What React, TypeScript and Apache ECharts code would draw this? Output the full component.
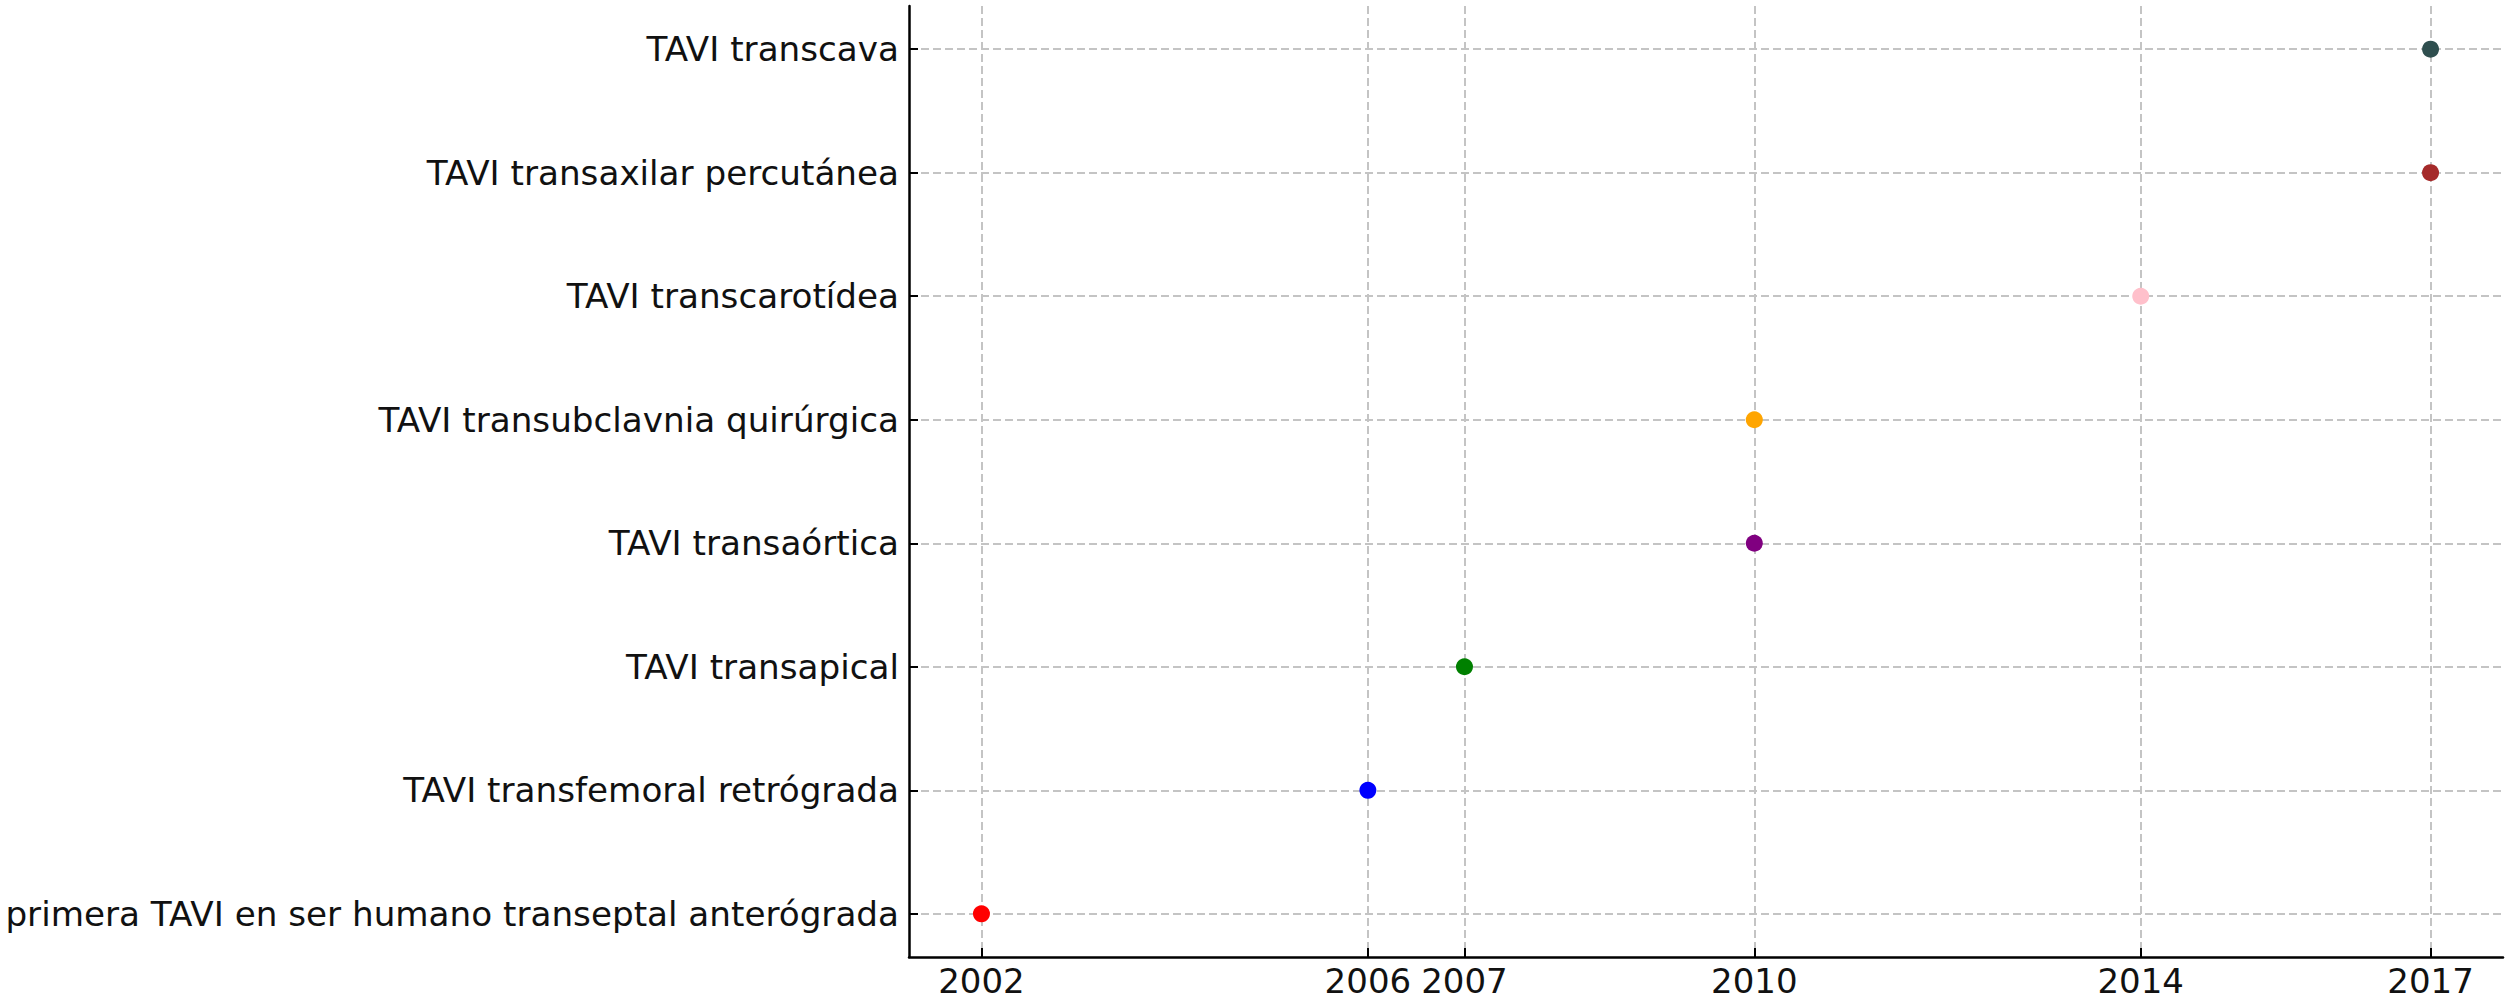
import React, { useEffect, useRef } from "react";
import * as echarts from "echarts";

const categories = [
  "primera TAVI en ser humano transeptal anterógrada",
  "TAVI transfemoral retrógrada",
  "TAVI transapical",
  "TAVI transaórtica",
  "TAVI transubclavnia quirúrgica",
  "TAVI transcarotídea",
  "TAVI transaxilar percutánea",
  "TAVI transcava",
];
const years = [2002, 2006, 2007, 2010, 2010, 2014, 2017, 2017];
const colors = ["#FF0000", "#0000FF", "#008000", "#800080", "#FFA500", "#FFC0CB", "#A52A2A", "#2F4F4F"];
const yearTicks = [2002, 2006, 2007, 2010, 2014, 2017];
const catTicks = [0, 1, 2, 3, 4, 5, 6, 7];

export default function App() {
  const ref = useRef<HTMLDivElement>(null);
  useEffect(() => {
    const chart = echarts.init(ref.current!, null, { renderer: "svg" });
    const font = "DejaVu Sans";
    const gridLine = { show: true, lineStyle: { color: "#c4c4c4", width: 2, type: [8, 4] as any } };
    chart.setOption({
      animation: false,
      textStyle: { fontFamily: font },
      grid: { left: 909, top: 6, width: 1594, height: 951, containLabel: false, outerBoundsMode: "none" },
      xAxis: {
        type: "value",
        min: 2001.25,
        max: 2017.75,
        axisLine: { show: true, onZero: false, lineStyle: { color: "#000", width: 2.5 } },
        axisTick: { show: true, inside: true, length: 9, customValues: yearTicks, lineStyle: { color: "#000", width: 2 } },
        axisLabel: { customValues: yearTicks, formatter: (v: number) => String(v), color: "#111", fontSize: 34, lineHeight: 36, fontFamily: font, margin: 6 },
        splitLine: gridLine,
      },
      yAxis: {
        type: "value",
        min: -0.35,
        max: 7.35,
        axisLine: { show: true, onZero: false, lineStyle: { color: "#000", width: 2.5 } },
        axisTick: { show: true, inside: true, length: 9, customValues: catTicks, lineStyle: { color: "#000", width: 2 } },
        axisLabel: { customValues: catTicks, formatter: (v: number) => categories[Math.round(v)] ?? "", color: "#111", fontSize: 34.2, fontFamily: font, margin: 10 },
        splitLine: gridLine,
      },
      series: [
        {
          type: "scatter",
          symbolSize: 17,
          z: 5,
          data: years.map((y, i) => ({ value: [y, i], itemStyle: { color: colors[i], opacity: 1 } })),
        },
      ],
    });
    return () => chart.dispose();
  }, []);
  return <div ref={ref} style={{ position: "fixed", left: 0, top: 0, width: 2508, height: 1000, background: "#fff" }} />;
}
